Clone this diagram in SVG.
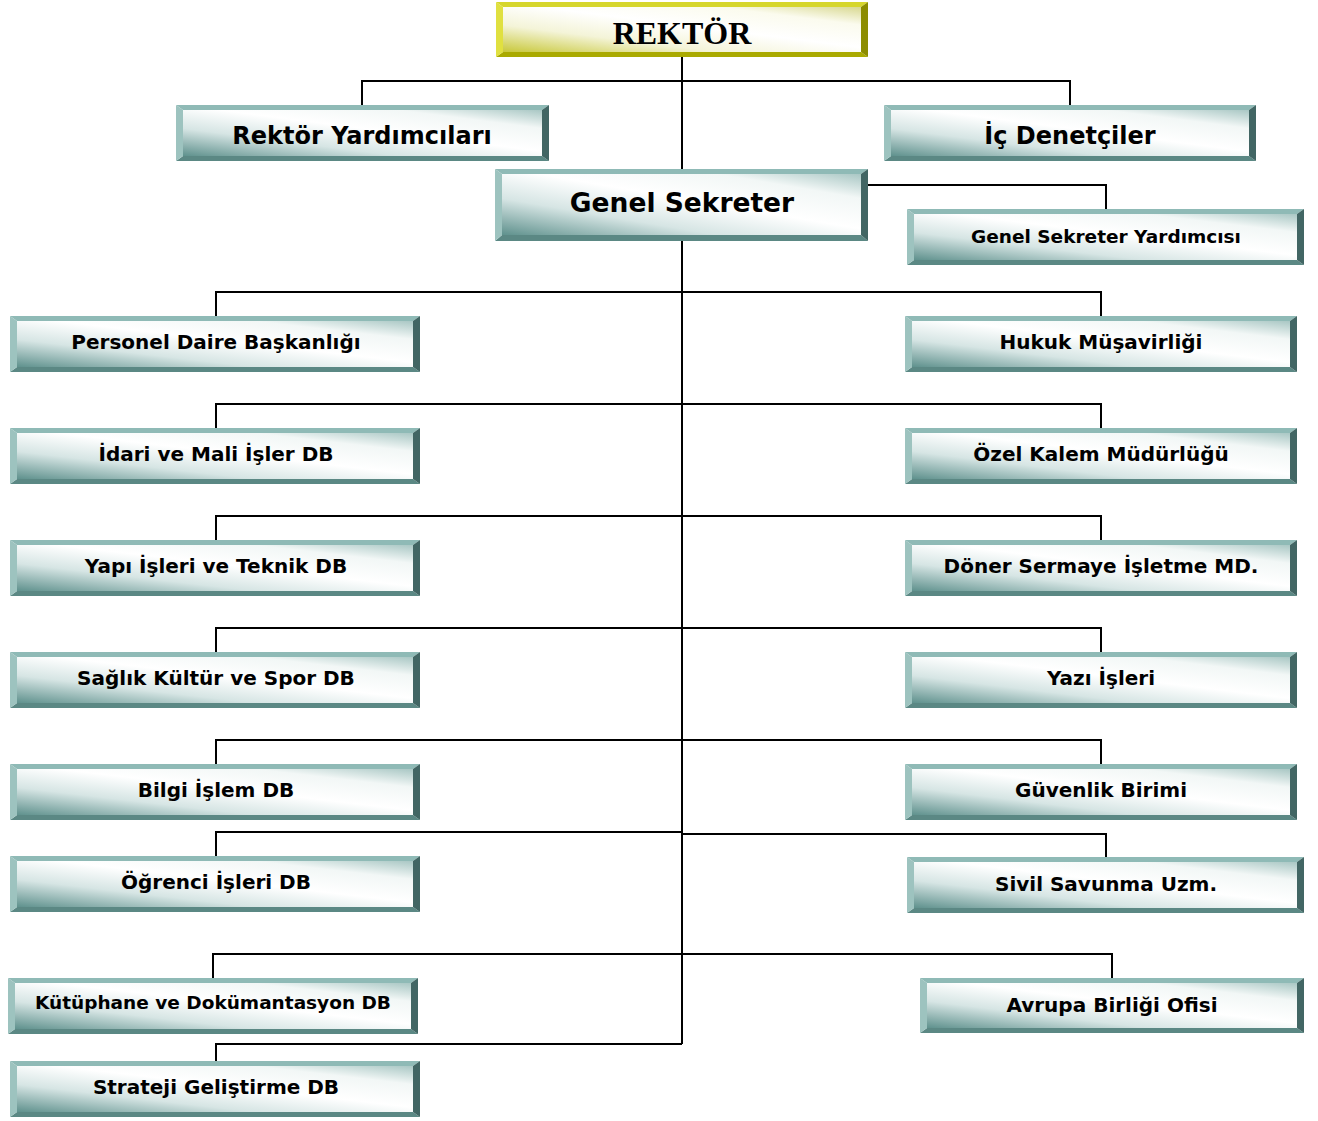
<svg xmlns="http://www.w3.org/2000/svg" width="1318" height="1121" viewBox="0 0 1318 1121">
<defs>
<linearGradient id="face" x1="0" y1="1" x2="1" y2="0">
<stop offset="0" stop-color="#5f918d"/>
<stop offset="0.3" stop-color="#d6e5e4"/>
<stop offset="0.55" stop-color="#ffffff"/>
<stop offset="0.8" stop-color="#f2f7f6"/>
<stop offset="1" stop-color="#a9c7c4"/>
</linearGradient>
<linearGradient id="faceY" x1="0" y1="1" x2="1" y2="0">
<stop offset="0" stop-color="#c8c83a"/>
<stop offset="0.3" stop-color="#f4f4d8"/>
<stop offset="0.55" stop-color="#ffffff"/>
<stop offset="0.8" stop-color="#fbfbee"/>
<stop offset="1" stop-color="#d8d890"/>
</linearGradient>
<style>
.t{fill:#8fbab6}.l{fill:#9dc3bf}.r{fill:#426664}.b{fill:#5b8884}.f{fill:url(#face)}
.ty{fill:#d6d62c}.ly{fill:#e0e040}.ry{fill:#8c8c00}.by{fill:#aaaa00}.fy{fill:url(#faceY)}
.lbl{font-family:"DejaVu Sans","Verdana",sans-serif;font-weight:bold;fill:#000;text-anchor:middle;font-size:20px}
.rk{font-family:"Liberation Serif","Times New Roman",serif;font-weight:bold;font-size:32px;fill:#000;text-anchor:middle}
.c{fill:none;stroke:#000;stroke-width:2}
</style>
</defs>
<g id="connectors">
<path class="c" d="M682,57 V1044"/>
<path class="c" d="M362,105 V81 H1070 V105"/>
<path class="c" d="M868,185 H1106 V209"/>
<path class="c" d="M216,316 V292 H1101 V316"/>
<path class="c" d="M216,428 V404 H1101 V428"/>
<path class="c" d="M216,540 V516 H1101 V540"/>
<path class="c" d="M216,652 V628 H1101 V652"/>
<path class="c" d="M216,764 V740 H1101 V764"/>
<path class="c" d="M216,856 V832 H682"/>
<path class="c" d="M682,834 H1106 V857"/>
<path class="c" d="M213,978 V954 H1112 V978"/>
<path class="c" d="M216,1061 V1044 H682"/>
</g>
<g id="rektor">
<polygon class="ty" points="496,2 868,2 861,7 503,7"/>
<polygon class="by" points="496,57 868,57 861,52 503,52"/>
<polygon class="ly" points="496,2 503,7 503,52 496,57"/>
<polygon class="ry" points="868,2 861,7 861,52 868,57"/>
<rect class="fy" x="503" y="7" width="358" height="45"/>
<text class="rk" x="682" y="44">REKTÖR</text>
</g>
<g id="rektor-yardimcilari">
<polygon class="t" points="176,105 549,105 542,110 183,110"/>
<polygon class="b" points="176,161 549,161 542,156 183,156"/>
<polygon class="l" points="176,105 183,110 183,156 176,161"/>
<polygon class="r" points="549,105 542,110 542,156 549,161"/>
<rect class="f" x="183" y="110" width="359" height="46"/>
<text class="lbl" x="362" y="144" style="font-size:24px">Rektör Yardımcıları</text>
</g>
<g id="ic-denetciler">
<polygon class="t" points="884,105 1256,105 1249,110 891,110"/>
<polygon class="b" points="884,161 1256,161 1249,156 891,156"/>
<polygon class="l" points="884,105 891,110 891,156 884,161"/>
<polygon class="r" points="1256,105 1249,110 1249,156 1256,161"/>
<rect class="f" x="891" y="110" width="358" height="46"/>
<text class="lbl" x="1070" y="144" style="font-size:24px">İç Denetçiler</text>
</g>
<g id="genel-sekreter">
<polygon class="t" points="495,169 868,169 861,174 502,174"/>
<polygon class="b" points="495,241 868,241 861,235 502,235"/>
<polygon class="l" points="495,169 502,174 502,235 495,241"/>
<polygon class="r" points="868,169 861,174 861,235 868,241"/>
<rect class="f" x="502" y="174" width="359" height="61"/>
<text class="lbl" x="682" y="212" style="font-size:26.5px">Genel Sekreter</text>
</g>
<g id="genel-sekreter-yardimcisi">
<polygon class="t" points="907,209 1304,209 1297,214 914,214"/>
<polygon class="b" points="907,265 1304,265 1297,260 914,260"/>
<polygon class="l" points="907,209 914,214 914,260 907,265"/>
<polygon class="r" points="1304,209 1297,214 1297,260 1304,265"/>
<rect class="f" x="914" y="214" width="383" height="46"/>
<text class="lbl" x="1106" y="243" style="font-size:18.5px">Genel Sekreter Yardımcısı</text>
</g>
<g id="personel">
<polygon class="t" points="10,316 420,316 413,321 17,321"/>
<polygon class="b" points="10,372 420,372 413,367 17,367"/>
<polygon class="l" points="10,316 17,321 17,367 10,372"/>
<polygon class="r" points="420,316 413,321 413,367 420,372"/>
<rect class="f" x="17" y="321" width="396" height="46"/>
<text class="lbl" x="216" y="349">Personel Daire Başkanlığı</text>
</g>
<g id="hukuk">
<polygon class="t" points="905,316 1297,316 1290,321 912,321"/>
<polygon class="b" points="905,372 1297,372 1290,367 912,367"/>
<polygon class="l" points="905,316 912,321 912,367 905,372"/>
<polygon class="r" points="1297,316 1290,321 1290,367 1297,372"/>
<rect class="f" x="912" y="321" width="378" height="46"/>
<text class="lbl" x="1101" y="349">Hukuk Müşavirliği</text>
</g>
<g id="idari-mali">
<polygon class="t" points="10,428 420,428 413,433 17,433"/>
<polygon class="b" points="10,484 420,484 413,479 17,479"/>
<polygon class="l" points="10,428 17,433 17,479 10,484"/>
<polygon class="r" points="420,428 413,433 413,479 420,484"/>
<rect class="f" x="17" y="433" width="396" height="46"/>
<text class="lbl" x="216" y="461">İdari ve Mali İşler DB</text>
</g>
<g id="ozel-kalem">
<polygon class="t" points="905,428 1297,428 1290,433 912,433"/>
<polygon class="b" points="905,484 1297,484 1290,479 912,479"/>
<polygon class="l" points="905,428 912,433 912,479 905,484"/>
<polygon class="r" points="1297,428 1290,433 1290,479 1297,484"/>
<rect class="f" x="912" y="433" width="378" height="46"/>
<text class="lbl" x="1101" y="461">Özel Kalem Müdürlüğü</text>
</g>
<g id="yapi-isleri">
<polygon class="t" points="10,540 420,540 413,545 17,545"/>
<polygon class="b" points="10,596 420,596 413,591 17,591"/>
<polygon class="l" points="10,540 17,545 17,591 10,596"/>
<polygon class="r" points="420,540 413,545 413,591 420,596"/>
<rect class="f" x="17" y="545" width="396" height="46"/>
<text class="lbl" x="216" y="573">Yapı İşleri ve Teknik DB</text>
</g>
<g id="doner-sermaye">
<polygon class="t" points="905,540 1297,540 1290,545 912,545"/>
<polygon class="b" points="905,596 1297,596 1290,591 912,591"/>
<polygon class="l" points="905,540 912,545 912,591 905,596"/>
<polygon class="r" points="1297,540 1290,545 1290,591 1297,596"/>
<rect class="f" x="912" y="545" width="378" height="46"/>
<text class="lbl" x="1101" y="573">Döner Sermaye İşletme MD.</text>
</g>
<g id="saglik-kultur">
<polygon class="t" points="10,652 420,652 413,657 17,657"/>
<polygon class="b" points="10,708 420,708 413,703 17,703"/>
<polygon class="l" points="10,652 17,657 17,703 10,708"/>
<polygon class="r" points="420,652 413,657 413,703 420,708"/>
<rect class="f" x="17" y="657" width="396" height="46"/>
<text class="lbl" x="216" y="685">Sağlık Kültür ve Spor DB</text>
</g>
<g id="yazi-isleri">
<polygon class="t" points="905,652 1297,652 1290,657 912,657"/>
<polygon class="b" points="905,708 1297,708 1290,703 912,703"/>
<polygon class="l" points="905,652 912,657 912,703 905,708"/>
<polygon class="r" points="1297,652 1290,657 1290,703 1297,708"/>
<rect class="f" x="912" y="657" width="378" height="46"/>
<text class="lbl" x="1101" y="685">Yazı İşleri</text>
</g>
<g id="bilgi-islem">
<polygon class="t" points="10,764 420,764 413,769 17,769"/>
<polygon class="b" points="10,820 420,820 413,815 17,815"/>
<polygon class="l" points="10,764 17,769 17,815 10,820"/>
<polygon class="r" points="420,764 413,769 413,815 420,820"/>
<rect class="f" x="17" y="769" width="396" height="46"/>
<text class="lbl" x="216" y="797">Bilgi İşlem DB</text>
</g>
<g id="guvenlik">
<polygon class="t" points="905,764 1297,764 1290,769 912,769"/>
<polygon class="b" points="905,820 1297,820 1290,815 912,815"/>
<polygon class="l" points="905,764 912,769 912,815 905,820"/>
<polygon class="r" points="1297,764 1290,769 1290,815 1297,820"/>
<rect class="f" x="912" y="769" width="378" height="46"/>
<text class="lbl" x="1101" y="797">Güvenlik Birimi</text>
</g>
<g id="ogrenci-isleri">
<polygon class="t" points="10,856 420,856 413,861 17,861"/>
<polygon class="b" points="10,912 420,912 413,907 17,907"/>
<polygon class="l" points="10,856 17,861 17,907 10,912"/>
<polygon class="r" points="420,856 413,861 413,907 420,912"/>
<rect class="f" x="17" y="861" width="396" height="46"/>
<text class="lbl" x="216" y="889">Öğrenci İşleri DB</text>
</g>
<g id="sivil-savunma">
<polygon class="t" points="907,857 1304,857 1297,862 914,862"/>
<polygon class="b" points="907,913 1304,913 1297,908 914,908"/>
<polygon class="l" points="907,857 914,862 914,908 907,913"/>
<polygon class="r" points="1304,857 1297,862 1297,908 1304,913"/>
<rect class="f" x="914" y="862" width="383" height="46"/>
<text class="lbl" x="1106" y="891">Sivil Savunma Uzm.</text>
</g>
<g id="kutuphane">
<polygon class="t" points="8,978 418,978 411,983 15,983"/>
<polygon class="b" points="8,1034 418,1034 411,1029 15,1029"/>
<polygon class="l" points="8,978 15,983 15,1029 8,1034"/>
<polygon class="r" points="418,978 411,983 411,1029 418,1034"/>
<rect class="f" x="15" y="983" width="396" height="46"/>
<text class="lbl" x="213" y="1009" style="font-size:18.5px">Kütüphane ve Dokümantasyon DB</text>
</g>
<g id="avrupa-birligi">
<polygon class="t" points="920,978 1304,978 1297,983 927,983"/>
<polygon class="b" points="920,1033 1304,1033 1297,1028 927,1028"/>
<polygon class="l" points="920,978 927,983 927,1028 920,1033"/>
<polygon class="r" points="1304,978 1297,983 1297,1028 1304,1033"/>
<rect class="f" x="927" y="983" width="370" height="45"/>
<text class="lbl" x="1112" y="1012">Avrupa Birliği Ofisi</text>
</g>
<g id="strateji">
<polygon class="t" points="10,1061 420,1061 413,1066 17,1066"/>
<polygon class="b" points="10,1117 420,1117 413,1112 17,1112"/>
<polygon class="l" points="10,1061 17,1066 17,1112 10,1117"/>
<polygon class="r" points="420,1061 413,1066 413,1112 420,1117"/>
<rect class="f" x="17" y="1066" width="396" height="46"/>
<text class="lbl" x="216" y="1094">Strateji Geliştirme DB</text>
</g>
</svg>
